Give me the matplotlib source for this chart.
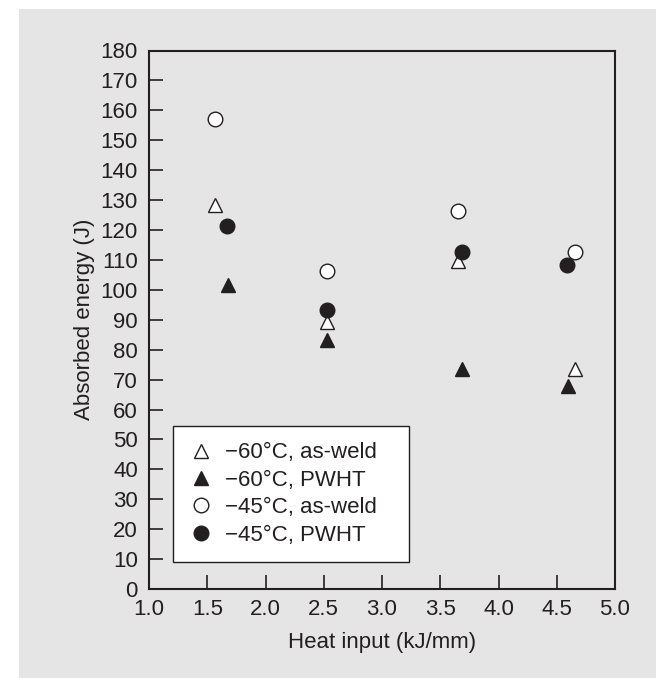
import matplotlib
matplotlib.use("Agg")
import matplotlib.pyplot as plt
from matplotlib.patches import Rectangle

plt.rcParams['font.family'] = ['Liberation Sans', 'DejaVu Sans']

# Data (heat input kJ/mm, absorbed energy J)
x_m60_asweld = [1.57, 2.53, 3.65, 4.66]
y_m60_asweld = [128.5, 89.3, 109.5, 73.6]

x_m60_pwht = [1.68, 2.53, 3.69, 4.60]
y_m60_pwht = [101.5, 83.3, 73.6, 67.7]

x_m45_asweld = [1.57, 2.53, 3.65, 4.66]
y_m45_asweld = [157.2, 106.4, 126.4, 112.5]

x_m45_pwht = [1.67, 2.53, 3.69, 4.59]
y_m45_pwht = [121.4, 93.3, 112.5, 108.4]

labels = ["\u221260\u00b0C, as-weld", "\u221260\u00b0C, PWHT",
          "\u221245\u00b0C, as-weld", "\u221245\u00b0C, PWHT"]

x_ticks = [1.0, 1.5, 2.0, 2.5, 3.0, 3.5, 4.0, 4.5, 5.0]
y_ticks = list(range(0, 181, 10))

W, H = 656, 678
fig = plt.figure(figsize=(W / 100, H / 100), dpi=100, facecolor='white')
gray = '#e5e5e5'
ink = '#231f20'
fig.patches.append(Rectangle((19 / W, 0), 1, (H - 9) / H, transform=fig.transFigure,
                             facecolor=gray, edgecolor='none', zorder=-10))

ax = fig.add_axes([149 / W, (H - 589) / H, 466 / W, 538.5 / H])
ax.set_zorder(1)
ax.set_facecolor(gray)

fs = 16
ax.plot(x_m60_asweld, y_m60_asweld, linestyle='none', marker='^', ms=10,
        mfc='white', mec=ink, mew=1.0, label=labels[0])
ax.plot(x_m60_pwht, y_m60_pwht, linestyle='none', marker='^', ms=10,
        mfc=ink, mec=ink, mew=1.0, label=labels[1])
ax.plot(x_m45_asweld, y_m45_asweld, linestyle='none', marker='o', ms=10.5,
        mfc='white', mec=ink, mew=1.0, label=labels[2])
ax.plot(x_m45_pwht, y_m45_pwht, linestyle='none', marker='o', ms=10.5,
        mfc=ink, mec=ink, mew=1.0, label=labels[3])

ax.set_xlim(1.0, 5.0)
ax.set_ylim(0, 180)
ax.set_xticks(x_ticks)
ax.set_xticklabels([f"{v:.1f}" for v in x_ticks])
ax.set_yticks(y_ticks)
ax.set_yticklabels([str(v) for v in y_ticks])

for s in ax.spines.values():
    s.set_color(ink)
    s.set_linewidth(1.5)

ax.tick_params(axis='both', direction='in', length=10, width=1.2, colors=ink,
               labelsize=fs, labelcolor=ink)
ax.tick_params(axis='x', pad=7)
ax.tick_params(axis='y', pad=8)

ax.set_xlabel("Heat input (kJ/mm)", fontsize=fs, color=ink, labelpad=9)
ax.set_ylabel("Absorbed energy (J)", fontsize=fs, color=ink, labelpad=4)

leg = ax.legend(loc='lower left', bbox_to_anchor=(0.051, 0.0496, 0.5077, 0.25),
                mode='expand', fontsize=fs,
                frameon=True, fancybox=False, framealpha=1, edgecolor=ink,
                borderpad=0.75, labelspacing=0.29, handletextpad=0.6,
                handlelength=1.0, borderaxespad=0)
leg.get_frame().set_linewidth(1.0)
leg.get_frame().set_facecolor('white')
for t in leg.get_texts():
    t.set_color(ink)

fig.savefig("out.png", dpi=100, facecolor='white')
